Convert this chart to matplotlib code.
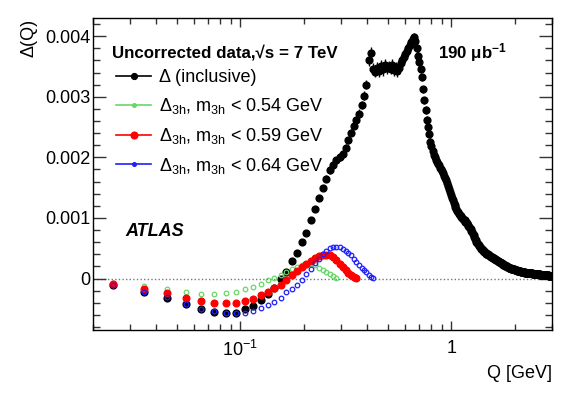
import numpy as np
import matplotlib
matplotlib.use('Agg')
import matplotlib.pyplot as plt
from matplotlib.lines import Line2D
from matplotlib.ticker import FixedLocator, FixedFormatter, NullFormatter

plt.rcParams['font.family'] = ['Liberation Sans', 'DejaVu Sans']
plt.rcParams['mathtext.fontset'] = 'custom'
plt.rcParams['mathtext.rm'] = 'Liberation Sans'
plt.rcParams['mathtext.it'] = 'Liberation Sans:italic'
plt.rcParams['mathtext.bf'] = 'Liberation Sans:bold'

# ---------------- data (Delta values in units of 1e-3) ----------------
bin_width = 0.01
q_first = 0.025
n_bins = 298
Q = np.round(q_first + bin_width * np.arange(n_bins), 3)   # bin centres [GeV]

delta_incl = [
    -0.115, -0.22, -0.32, -0.42, -0.50, -0.545, -0.565, -0.575, -0.50, -0.46,   # 0.025-0.115
    -0.36, -0.26, -0.15, -0.01, 0.11, 0.29, 0.42, 0.60, 0.75, 0.97,             # 0.125-0.215
    1.15, 1.33, 1.49, 1.65, 1.79, 1.88, 1.95, 2.00, 2.06, 2.16,                  # 0.225-0.315
    2.28, 2.41, 2.52, 2.61, 2.72, 2.86, 3.02, 3.20, 3.60, 3.72,                  # 0.325-0.415
    3.46, 3.41, 3.48, 3.43, 3.51, 3.45, 3.53, 3.47, 3.50, 3.46,                  # 0.425-0.515
    3.53, 3.44, 3.49, 3.42, 3.47, 3.55, 3.60, 3.65, 3.70, 3.75,                  # 0.525-0.615
    3.80, 3.86, 3.91, 3.95, 3.98, 3.92, 3.80, 3.68, 3.58, 3.46,                  # 0.625-0.715
    3.32, 3.12, 2.94, 2.78, 2.62, 2.50, 2.38, 2.26, 2.18, 2.10,                  # 0.725-0.815
    2.04, 2.00, 1.96, 1.92, 1.89, 1.87, 1.83, 1.80, 1.78, 1.74,                  # 0.825-0.915
    1.70, 1.66, 1.62, 1.57, 1.53, 1.48, 1.43, 1.38, 1.33, 1.29,                  # 0.925-1.015
    1.25, 1.22, 1.18, 1.15, 1.12, 1.09, 1.07, 1.05, 1.03, 1.01,                  # 1.025-1.115
    1.00, 0.99, 0.97, 0.96, 0.94, 0.93, 0.91, 0.89, 0.87, 0.85,                  # 1.125-1.215
    0.83, 0.81, 0.79, 0.77, 0.74, 0.71, 0.68, 0.66, 0.63, 0.61,                  # 1.225-1.315
    0.59, 0.57, 0.55, 0.53, 0.52, 0.50, 0.49, 0.48, 0.47, 0.46,                  # 1.325-1.415
    0.45, 0.44, 0.43, 0.42, 0.41, 0.41, 0.40, 0.39, 0.38, 0.38,                  # 1.425-1.515
    0.37, 0.36, 0.36, 0.35, 0.35, 0.34, 0.34, 0.33, 0.32, 0.32,                  # 1.525-1.615
    0.31, 0.31, 0.30, 0.29, 0.29, 0.28, 0.28, 0.27, 0.27, 0.26,                  # 1.625-1.715
    0.25, 0.25, 0.24, 0.24, 0.23, 0.23, 0.22, 0.22, 0.21, 0.21,                  # 1.725-1.815
    0.20, 0.20, 0.19, 0.19, 0.19, 0.18, 0.18, 0.17, 0.17, 0.17,                  # 1.825-1.915
    0.16, 0.16, 0.16, 0.15, 0.15, 0.15, 0.15, 0.145, 0.143, 0.140,               # 1.925-2.015
    0.138, 0.135, 0.133, 0.130, 0.128, 0.126, 0.124, 0.122, 0.120, 0.118,        # 2.025-2.115
    0.116, 0.114, 0.112, 0.110, 0.109, 0.107, 0.106, 0.104, 0.103, 0.101,        # 2.125-2.215
    0.100, 0.099, 0.098, 0.097, 0.096, 0.095, 0.094, 0.093, 0.092, 0.091,        # 2.225-2.315
    0.091, 0.090, 0.089, 0.088, 0.087, 0.086, 0.085, 0.084, 0.084, 0.083,        # 2.325-2.415
    0.082, 0.081, 0.080, 0.079, 0.079, 0.078, 0.077, 0.076, 0.075, 0.075,        # 2.425-2.515
    0.074, 0.073, 0.072, 0.071, 0.071, 0.070, 0.069, 0.069, 0.068, 0.067,        # 2.525-2.615
    0.067, 0.066, 0.066, 0.065, 0.064, 0.064, 0.063, 0.062, 0.062, 0.061,        # 2.625-2.715
    0.060, 0.060, 0.059, 0.058, 0.058, 0.057, 0.056, 0.056, 0.055, 0.054,        # 2.725-2.815
    0.054, 0.053, 0.052, 0.052, 0.051, 0.050, 0.050, 0.049, 0.048, 0.048,        # 2.825-2.915
    0.047, 0.046, 0.045, 0.044, 0.043, 0.042, 0.041, 0.040,                      # 2.925-2.995
]

err_incl = [
    0.01, 0.01, 0.01, 0.01, 0.01, 0.01, 0.01, 0.01, 0.01, 0.01,
    0.015, 0.02, 0.02, 0.02, 0.025, 0.03, 0.03, 0.04, 0.04, 0.05,
    0.05, 0.05, 0.05, 0.06, 0.06, 0.06, 0.06, 0.06, 0.06, 0.06,
    0.06, 0.06, 0.06, 0.07, 0.07, 0.07, 0.07, 0.08, 0.10, 0.10,
    0.09, 0.09, 0.09, 0.10, 0.09, 0.10, 0.09, 0.10, 0.09, 0.09,
    0.09, 0.10, 0.09, 0.09, 0.09, 0.08, 0.08, 0.08, 0.08, 0.08,
    0.08, 0.08, 0.08, 0.08, 0.08, 0.08, 0.07, 0.07, 0.07, 0.07,
    0.06, 0.06, 0.06, 0.06, 0.06, 0.06, 0.06, 0.06, 0.06, 0.06,
    0.06, 0.06, 0.06, 0.06, 0.06, 0.06, 0.06, 0.06, 0.06, 0.06,
    0.06, 0.06, 0.06, 0.06, 0.06, 0.06, 0.06, 0.06, 0.06, 0.06,
    0.06, 0.06, 0.06, 0.06, 0.06, 0.06, 0.06, 0.06, 0.06, 0.06,
    0.06, 0.06, 0.06, 0.06, 0.06, 0.06, 0.06, 0.06, 0.06, 0.06,
    0.05, 0.05, 0.05, 0.05, 0.05, 0.05, 0.05, 0.05, 0.05, 0.05,
    0.05, 0.05, 0.05, 0.05, 0.05, 0.05, 0.05, 0.05, 0.05, 0.05,
    0.04, 0.04, 0.04, 0.04, 0.04, 0.04, 0.04, 0.04, 0.04, 0.04,
    0.04, 0.04, 0.04, 0.04, 0.04, 0.04, 0.04, 0.04, 0.04, 0.04,
    0.035, 0.035, 0.035, 0.035, 0.035, 0.035, 0.035, 0.035, 0.035, 0.035,
    0.035, 0.035, 0.035, 0.035, 0.035, 0.035, 0.035, 0.035, 0.035, 0.035,
    0.03, 0.03, 0.03, 0.03, 0.03, 0.03, 0.03, 0.03, 0.03, 0.03,
    0.03, 0.03, 0.03, 0.03, 0.03, 0.03, 0.03, 0.03, 0.03, 0.03,
    0.03, 0.03, 0.03, 0.03, 0.03, 0.03, 0.03, 0.03, 0.03, 0.03,
    0.03, 0.03, 0.03, 0.03, 0.03, 0.03, 0.03, 0.03, 0.03, 0.03,
    0.025, 0.025, 0.025, 0.025, 0.025, 0.025, 0.025, 0.025, 0.025, 0.025,
    0.025, 0.025, 0.025, 0.025, 0.025, 0.025, 0.025, 0.025, 0.025, 0.025,
    0.025, 0.025, 0.025, 0.025, 0.025, 0.025, 0.025, 0.025, 0.025, 0.025,
    0.025, 0.025, 0.025, 0.025, 0.025, 0.025, 0.025, 0.025, 0.025, 0.025,
    0.025, 0.025, 0.025, 0.025, 0.025, 0.025, 0.025, 0.025, 0.025, 0.025,
    0.025, 0.025, 0.025, 0.025, 0.025, 0.025, 0.025, 0.025, 0.025, 0.025,
    0.025, 0.025, 0.025, 0.025, 0.025, 0.025, 0.025, 0.025, 0.025, 0.025,
    0.025, 0.025, 0.025, 0.025, 0.025, 0.025, 0.025, 0.025,
]

delta_054 = [   # m3h < 0.54 GeV, Q = 0.025 ... 0.285
    -0.08, -0.13, -0.175, -0.225, -0.25, -0.255, -0.24, -0.22, -0.18, -0.135,
    -0.09, -0.025, 0.015, 0.055, 0.105, 0.155, 0.195, 0.225, 0.24, 0.235,
    0.215, 0.18, 0.145, 0.11, 0.075, 0.04, 0.005,
]
delta_059 = [   # m3h < 0.59 GeV, Q = 0.025 ... 0.355
    -0.09, -0.17, -0.24, -0.32, -0.37, -0.40, -0.405, -0.40, -0.375, -0.335,
    -0.28, -0.215, -0.16, -0.10, -0.03, 0.05, 0.13, 0.19, 0.245, 0.29,
    0.335, 0.37, 0.39, 0.395, 0.385, 0.355, 0.30, 0.245, 0.19, 0.14,
    0.095, 0.055, 0.025, 0.005,
]
delta_064 = [   # m3h < 0.64 GeV, Q = 0.025 ... 0.425
    -0.115, -0.215, -0.31, -0.42, -0.50, -0.54, -0.565, -0.575, -0.57, -0.54,
    -0.49, -0.44, -0.39, -0.33, -0.23, -0.17, -0.10, -0.02, 0.07, 0.16,
    0.25, 0.33, 0.41, 0.46, 0.50, 0.515, 0.525, 0.515, 0.49, 0.46,
    0.42, 0.38, 0.33, 0.28, 0.23, 0.18, 0.14, 0.10, 0.06, 0.03,
    0.005,
]

labels = [
    'Δ (inclusive)',
    r'$\mathregular{\Delta_{3h}}$, m$_{\mathregular{3h}}$ < 0.54 GeV',
    r'$\mathregular{\Delta_{3h}}$, m$_{\mathregular{3h}}$ < 0.59 GeV',
    r'$\mathregular{\Delta_{3h}}$, m$_{\mathregular{3h}}$ < 0.64 GeV',
]
ytick_vals = [0.0, 0.001, 0.002, 0.003, 0.004]
ytick_labels = ['0', '0.001', '0.002', '0.003', '0.004']
xtick_vals = [0.1, 1.0]
xtick_labels = [r'$\mathregular{10^{-1}}$', '1']

scale = 1e-3
c_green = '#66d866'
c_red = '#ff0000'
c_blue = '#1f1fff'

# ---------------- figure ----------------
W, H = 581, 394
fig = plt.figure(figsize=(W / 100, H / 100), dpi=100)
ax = fig.add_axes([93 / W, 1 - 330 / H, (552 - 93) / W, (330 - 18) / H])

ax.set_xscale('log')
ax.set_xlim(0.02, 3.0)
ax.set_ylim(-0.00085, 0.0043)

ax.axhline(0, color='#777777', lw=1.0, ls=(0, (1, 1.6)), zorder=1)

d = np.array(delta_incl) * scale
e = np.array(err_incl) * scale
ax.errorbar(Q, d, yerr=e, fmt='o', ms=4.9, color='k', mec='k', elinewidth=1.0,
            capsize=0, zorder=3)

n1, n2, n3 = len(delta_054), len(delta_059), len(delta_064)
ax.plot(Q[:n1], np.array(delta_054) * scale, 'o', ms=3.3, mfc='none', mec=c_green,
        mew=0.9, zorder=4)
ax.plot(Q[:n2], np.array(delta_059) * scale, 'o', ms=4.8, color=c_red, mec=c_red,
        zorder=5)
ax.plot(Q[:n3], np.array(delta_064) * scale, 'o', ms=3.3, mfc='none', mec=c_blue,
        mew=0.9, zorder=6)

# axes styling
for s in ax.spines.values():
    s.set_linewidth(1.0)
    s.set_color('black')
ax.yaxis.set_major_locator(FixedLocator(ytick_vals))
ax.yaxis.set_major_formatter(FixedFormatter(ytick_labels))
ax.yaxis.set_minor_locator(FixedLocator(np.arange(-0.0008, 0.00431, 0.0002)))
ax.xaxis.set_major_locator(FixedLocator(xtick_vals))
ax.xaxis.set_major_formatter(FixedFormatter(xtick_labels))
xminor = [0.02, 0.03, 0.04, 0.05, 0.06, 0.07, 0.08, 0.09,
          0.2, 0.3, 0.4, 0.5, 0.6, 0.7, 0.8, 0.9, 2.0, 3.0]
ax.xaxis.set_minor_locator(FixedLocator(xminor))
ax.xaxis.set_minor_formatter(NullFormatter())

ax.tick_params(which='both', direction='in', top=True, right=True, labelsize=13,
               width=1.0, color='#333333')
ax.tick_params(axis='y', which='major', length=9.5, pad=2)
ax.tick_params(axis='y', which='minor', length=4.8)
ax.tick_params(axis='x', which='major', length=6.8, pad=7)
ax.tick_params(axis='x', which='minor', length=4.0)

# axis titles
fig.text(552 / W, 1 - 373 / H, 'Q [GeV]', ha='right', va='center', fontsize=13)
fig.text(29 / W, 1 - 19 / H, 'Δ(Q)', ha='center', va='top', rotation=90, fontsize=13)

# annotations
fig.text(112 / W, 1 - 53 / H, 'Uncorrected data,√s = 7 TeV', ha='left', va='center',
         fontsize=12.2, fontweight='bold')
fig.text(438 / W, 1 - 53 / H, r'190 $\mathregular{\mu}$b$^{\mathbf{-1}}$', ha='left',
         va='center', fontsize=12.2, fontweight='bold')
fig.text(125 / W, 1 - 232 / H, 'ATLAS', ha='left', va='center', fontsize=13,
         fontweight='bold', fontstyle='italic')

# legend
handles = [
    Line2D([], [], color='k', marker='o', ms=4.2, lw=1.2),
    Line2D([], [], color=c_green, marker='o', ms=2.6, lw=1.2),
    Line2D([], [], color=c_red, marker='o', ms=4.8, lw=1.2),
    Line2D([], [], color=c_blue, marker='o', ms=2.6, lw=1.2),
]
leg = fig.legend(handles, labels, loc='upper left',
                 bbox_to_anchor=(116 / W, 1 - 69 / H), frameon=False,
                 fontsize=13, handlelength=1.95, handletextpad=0.45,
                 labelspacing=0.55, borderpad=0, borderaxespad=0)

fig.savefig('out.png', dpi=100)
